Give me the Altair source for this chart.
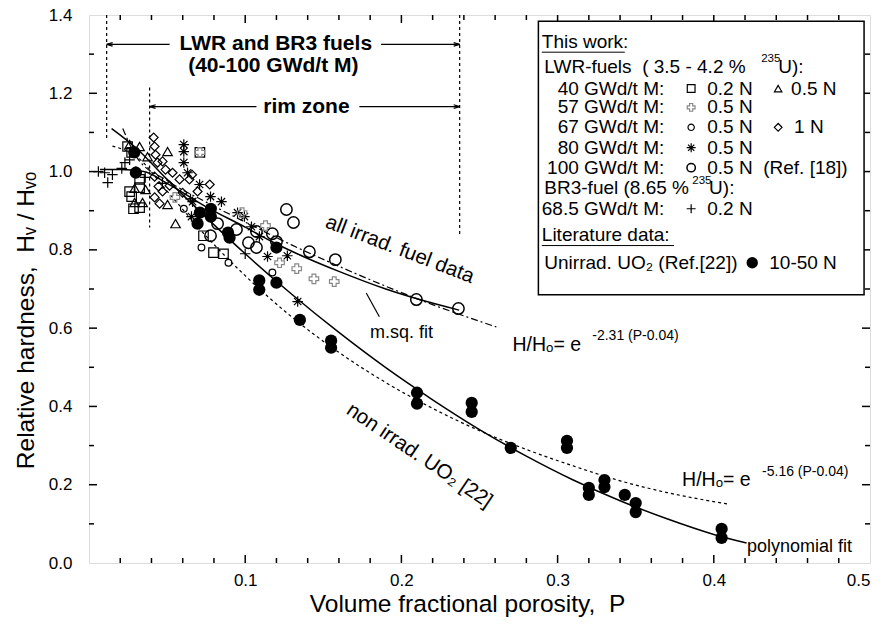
import altair as alt
import pandas as pd

# ---------------- data ----------------
# Unirradiated UO2, Ref.[22] (filled circles)
unirr_P = [0.029, 0.030, 0.0695, 0.071, 0.078, 0.078, 0.089, 0.090, 0.109, 0.109, 0.120, 0.120,
           0.135, 0.155, 0.155, 0.210, 0.210, 0.245, 0.245, 0.270, 0.306, 0.306, 0.320, 0.320,
           0.330, 0.330, 0.343, 0.350, 0.350, 0.405, 0.405]
unirr_H = [1.049, 0.997, 0.867, 0.895, 0.905, 0.885, 0.844, 0.831, 0.722, 0.698, 0.806, 0.716,
           0.621, 0.568, 0.550, 0.435, 0.407, 0.409, 0.386, 0.294, 0.312, 0.294, 0.192, 0.174,
           0.212, 0.194, 0.174, 0.153, 0.130, 0.087, 0.064]

# BR3 fuel 68.5 GWd/t M, 0.2 N (+)
br3_P = [0.006, 0.010, 0.012, 0.015, 0.021, 0.023, 0.026, 0.030, 0.036, 0.047, 0.065, 0.100]
br3_H = [1.000, 0.997, 0.972, 0.992, 1.008, 1.023, 1.030, 1.000, 0.985, 0.970, 0.930, 0.790]

# LWR 57 GWd/t M, 0.5 N (grey outlined cross)
g57_P = [0.055, 0.071, 0.098, 0.113, 0.122, 0.133, 0.144, 0.157]
g57_H = [0.934, 1.049, 0.895, 0.862, 0.767, 0.752, 0.726, 0.719]

# LWR 40 GWd/t M, 0.2 N (squares)
sq40_P = [0.0247, 0.0273, 0.026, 0.0273, 0.0324, 0.0285, 0.0324, 0.0324, 0.071, 0.0733, 0.0797, 0.0861]
sq40_H = [1.064, 1.049, 0.949, 0.936, 0.959, 0.905, 0.908, 0.980, 1.049, 0.836, 0.793, 0.790]

# LWR 40 GWd/t M, 0.5 N (triangles)
tr40_P = [0.026, 0.0324, 0.0503, 0.0375, 0.0343, 0.0292, 0.0554, 0.0503, 0.0362, 0.0292]
tr40_H = [1.069, 1.064, 1.051, 1.038, 0.921, 0.957, 0.867, 0.916, 0.954, 0.921]

# LWR 67 GWd/t M, 1 N (diamonds)
dm67_P = [0.0414, 0.042, 0.0426, 0.0439, 0.0471, 0.049, 0.0535, 0.058, 0.042, 0.0445, 0.0471,
          0.042, 0.0452, 0.0516, 0.0599, 0.0695, 0.0643, 0.0773, 0.066]
dm67_H = [1.087, 1.064, 1.043, 1.023, 1.026, 1.005, 0.997, 0.980, 0.987, 0.962, 0.949,
          0.934, 0.918, 0.964, 0.946, 0.949, 0.980, 0.967, 0.992]

# LWR 67 GWd/t M, 0.5 N (small circles)
sc67_P = [0.0607, 0.072, 0.0893, 0.1174]
sc67_H = [0.905, 0.806, 0.767, 0.742]

# LWR 80 GWd/t M, 0.5 N (asterisks)
st80_P = [0.0607, 0.0607, 0.0607, 0.0631, 0.0708, 0.0778, 0.0848, 0.0951, 0.0995, 0.104,
          0.1091, 0.1143, 0.127, 0.0663, 0.0656, 0.1336]
st80_H = [1.069, 1.051, 1.023, 0.997, 0.967, 0.936, 0.923, 0.895, 0.885, 0.859,
          0.834, 0.783, 0.785, 0.923, 0.885, 0.668]

# LWR 100 GWd/t M, 0.5 N, Ref.[18] (large open circles)
lc100_P = [0.0778, 0.0823, 0.0944, 0.1021, 0.1072, 0.1072, 0.1174, 0.120, 0.1264, 0.1309,
           0.1411, 0.1577, 0.2096, 0.2365]
lc100_H = [0.836, 0.867, 0.852, 0.818, 0.806, 0.847, 0.841, 0.821, 0.903, 0.870,
           0.795, 0.775, 0.673, 0.650]

# fitted curves
poly_P = [0.0145, 0.03, 0.05, 0.075, 0.10, 0.13, 0.16, 0.19, 0.22, 0.25, 0.28, 0.31, 0.34, 0.37, 0.40, 0.421]
poly_H = [1.110, 1.061, 0.980, 0.883, 0.790, 0.686, 0.589, 0.499, 0.417, 0.341, 0.273, 0.212, 0.159, 0.113, 0.073, 0.051]

e516_P = [0.015, 0.03, 0.05, 0.075, 0.10, 0.13, 0.16, 0.19, 0.22, 0.25, 0.28, 0.31, 0.34, 0.37, 0.4085]
e516_H = [1.065, 1.040, 0.950, 0.835, 0.734, 0.628, 0.538, 0.461, 0.395, 0.338, 0.290, 0.248, 0.210, 0.180, 0.151]

e231_P = [0.0216, 0.03, 0.05, 0.075, 0.10, 0.13, 0.16, 0.19, 0.22, 0.2608]
e231_H = [1.110, 1.040, 0.977, 0.922, 0.871, 0.812, 0.758, 0.707, 0.660, 0.603]

msq_P = [0.007, 0.020, 0.035, 0.050, 0.075, 0.100, 0.1175, 0.135, 0.160, 0.190, 0.210, 0.237]
msq_H = [1.005, 1.005, 1.000, 0.970, 0.910, 0.858, 0.820, 0.787, 0.745, 0.700, 0.675, 0.646]

# ---------------- layout helpers ----------------
W, H = 781, 548
FONT = "Liberation Sans"
NB = "\u00a0"
LEG_FS = 19

xs = alt.Scale(domain=[0, 0.5], nice=False, zero=False)
ys = alt.Scale(domain=[0, 1.4], nice=False, zero=False)

XAX = alt.Axis(values=[0.1, 0.2, 0.3, 0.4, 0.5], format=".1f", ticks=False, domain=False,
               grid=False, labelFontSize=17, labelFont=FONT, labelColor="black",
               labelPadding=9, title=f"Volume fractional porosity,{NB}{NB}P", titleFont=FONT,
               titleFontSize=24.5, titleFontWeight="normal", titleColor="black",
               titleX=378, titleY=41, titleBaseline="middle", titleAlign="center")
YAX = alt.Axis(values=[0, 0.2, 0.4, 0.6, 0.8, 1.0, 1.2, 1.4], format=".1f", ticks=False,
               domain=False, grid=False, labelFontSize=17, labelFont=FONT,
               labelColor="black", labelPadding=17,
               title=f"Relative hardness,{NB}{NB}Hᵥ / Hᵥₒ", titleFont=FONT, titleFontSize=24.5,
               titleFontWeight="normal", titleColor="black", titleX=-63, titleY=305,
               titleBaseline="middle", titleAlign="center")


def X(f="P"):
    return alt.X(f, type="quantitative", scale=xs, axis=XAX)


def Y(f="H"):
    return alt.Y(f, type="quantitative", scale=ys, axis=YAX)


def pts(P, Hv, **kw):
    df = pd.DataFrame({"P": P, "H": Hv})
    base = dict(opacity=1, strokeWidth=1.2, color="black")
    base.update(kw)
    return alt.Chart(df).mark_point(**base).encode(x=X(), y=Y())


def curve(P, Hv, dash=None, width=1.5):
    df = pd.DataFrame({"P": P, "H": Hv})
    kw = dict(color="black", strokeWidth=width, interpolate="monotone")
    if dash:
        kw["strokeDash"] = dash
    return alt.Chart(df).mark_line(**kw).encode(x=X(), y=Y())


ASTER = "M-1,0L1,0M0,-1L0,1M-0.7,-0.7L0.7,0.7M-0.7,0.7L0.7,-0.7"
PLUS = "M-1,0L1,0M0,-1L0,1"
ARROW_L = "M0,0L2,-0.6M0,0L2,0.6"
ARROW_R = "M0,0L-2,-0.6M0,0L-2,0.6"

layers = []

# inward ticks on all four sides
xt_major = [0.1, 0.2, 0.3, 0.4]
xt_minor = [round(0.02 * i, 2) for i in range(1, 25) if i % 5 != 0]
yt_major = [0.2, 0.4, 0.6, 0.8, 1.0, 1.2]
yt_minor = [0.1, 0.3, 0.5, 0.7, 0.9, 1.1, 1.3]
for vals, ln in ((xt_major, 8), (xt_minor, 5)):
    d = pd.DataFrame({"P": vals})
    layers.append(alt.Chart(d).mark_rule(color="black", strokeWidth=1.5).encode(
        x=X(), y=alt.value(H), y2=alt.value(H - ln)))
    layers.append(alt.Chart(d).mark_rule(color="black", strokeWidth=1.5).encode(
        x=X(), y=alt.value(0), y2=alt.value(ln)))
for vals, ln in ((yt_major, 8), (yt_minor, 5)):
    d = pd.DataFrame({"H": vals})
    layers.append(alt.Chart(d).mark_rule(color="black", strokeWidth=1.5).encode(
        y=Y(), x=alt.value(0), x2=alt.value(ln)))
    layers.append(alt.Chart(d).mark_rule(color="black", strokeWidth=1.5).encode(
        y=Y(), x=alt.value(W), x2=alt.value(W - ln)))

# vertical dotted marker lines
vl = pd.DataFrame({"P": [0.0113, 0.0388, 0.2373], "H": [1.4, 1.215, 1.4], "H2": [1.082, 0.857, 0.839]})
layers.append(alt.Chart(vl).mark_rule(color="black", strokeWidth=1.2, strokeDash=[3, 3]).encode(
    x=X(), y=Y(), y2="H2:Q"))

# arrows
arr = pd.DataFrame({"P": [0.0113, 0.187, 0.0388, 0.1731], "P2": [0.0516, 0.2373, 0.1072, 0.2373],
                    "H": [1.325, 1.325, 1.166, 1.166]})
layers.append(alt.Chart(arr).mark_rule(color="black", strokeWidth=1.2).encode(x=X(), x2="P2:Q", y=Y()))
layers.append(pts([0.0113, 0.0388], [1.325, 1.166], shape=ARROW_L, size=36, filled=False, strokeWidth=1.2))
layers.append(pts([0.2373, 0.2373], [1.325, 1.166], shape=ARROW_R, size=36, filled=False, strokeWidth=1.2))

# curves
layers.append(curve(poly_P, poly_H))
layers.append(curve(e516_P, e516_H, dash=[3, 3], width=1.2))
layers.append(curve(e231_P, e231_H, dash=[7, 3, 2, 3], width=1.2))
layers.append(curve(msq_P, msq_H))

# data points
layers.append(pts(sq40_P, sq40_H, shape="square", size=90, filled=False))
layers.append(pts(tr40_P, tr40_H, shape="triangle-up", size=90, filled=False))
layers.append(pts(dm67_P, dm67_H, shape="diamond", size=80, filled=False))
layers.append(pts(sc67_P, sc67_H, shape="circle", size=45, filled=False))
layers.append(pts(st80_P, st80_H, shape=ASTER, size=110, filled=False))
layers.append(pts(lc100_P, lc100_H, shape="circle", size=130, filled=False, strokeWidth=1.5))
layers.append(pts(g57_P, g57_H, shape="cross", size=90, filled=False, color="#888888"))
layers.append(pts(br3_P, br3_H, shape=PLUS, size=110, filled=False))
layers.append(pts(unirr_P, unirr_H, shape="circle", size=150, filled=True))

# legend box
box = pd.DataFrame({"P": [0.2877], "P2": [0.4962], "H": [1.384], "H2": [0.685]})
layers.append(alt.Chart(box).mark_rect(fill="white", stroke="black", strokeWidth=1.5).encode(
    x=X(), x2="P2:Q", y=Y(), y2="H2:Q"))

# legend symbols
layers.append(pts([0.3855], [1.212], shape="square", size=60, filled=False))
layers.append(pts([0.4412], [1.212], shape="triangle-up", size=55, filled=False))
layers.append(pts([0.3855], [1.164], shape="cross", size=60, filled=False, color="#888888"))
layers.append(pts([0.3855], [1.113], shape="circle", size=40, filled=False))
layers.append(pts([0.4412], [1.113], shape="diamond", size=60, filled=False))
layers.append(pts([0.3855], [1.061], shape=ASTER, size=80, filled=False))
layers.append(pts([0.3855], [1.010], shape="circle", size=70, filled=False, strokeWidth=1.5))
layers.append(pts([0.3855], [0.905], shape=PLUS, size=80, filled=False))
layers.append(pts([0.4246], [0.767], shape="circle", size=130, filled=True))

# legend underlines
ul = pd.DataFrame({"P": [0.2899, 0.2899], "P2": [0.3430, 0.3745], "H": [1.305, 0.811]})
layers.append(alt.Chart(ul).mark_rule(color="black", strokeWidth=1).encode(x=X(), x2="P2:Q", y=Y()))


def texts(df, **kw):
    base = dict(font=FONT, fontSize=LEG_FS, color="black", baseline="middle")
    base.update(kw)
    return alt.Chart(df).mark_text(**base).encode(x=X(), y=Y(), text="t:N")


leg_left = pd.DataFrame({
    "t": ["This work:", f"LWR-fuels{NB}{NB}({NB}3.5 - 4.2 %", "U):", "0.2 N", "0.5 N", "0.5 N", "0.5 N", "1 N",
          "0.5 N", f"0.5 N{NB}{NB}(Ref. [18])", "BR3-fuel (8.65 %", "U):", "0.2 N", "Literature data:",
          "Unirrad. UO₂ (Ref.[22])", "10-50 N"],
    "P": [0.2899, 0.2915, 0.4412, 0.3958, 0.4495, 0.3958, 0.3958, 0.4514,
          0.3958, 0.3958, 0.2915, 0.3970, 0.3958, 0.2899, 0.2915, 0.4355],
    "H": [1.330, 1.266, 1.266, 1.212, 1.212, 1.164, 1.113, 1.113,
          1.061, 1.010, 0.957, 0.957, 0.905, 0.839, 0.767, 0.767],
})
layers.append(texts(leg_left, align="left"))
leg_right = pd.DataFrame({
    "t": ["40 GWd/t M:", "57 GWd/t M:", "67 GWd/t M:", "80 GWd/t M:", "100 GWd/t M:", "68.5 GWd/t M:"],
    "P": [0.3683, 0.3683, 0.3683, 0.3683, 0.3683, 0.3683],
    "H": [1.212, 1.164, 1.113, 1.061, 1.010, 0.905],
})
layers.append(texts(leg_right, align="right"))
sup = pd.DataFrame({"t": ["235", "235"], "P": [0.4303, 0.3862], "H": [1.287, 0.975]})
layers.append(texts(sup, align="left", fontSize=11.5))

# plot annotations
bold = pd.DataFrame({"t": ["LWR and BR3 fuels", "(40-100 GWd/t M)", "rim zone"],
                     "P": [0.1196, 0.1180, 0.1392], "H": [1.325, 1.269, 1.166]})
layers.append(texts(bold, align="center", fontSize=21, fontWeight="bold"))

layers.append(texts(pd.DataFrame({"t": ["all irrad. fuel data"], "P": [0.199], "H": [0.801]}),
                    align="center", fontSize=20.5, angle=21))
layers.append(texts(pd.DataFrame({"t": ["non irrad. UO₂ [22]"], "P": [0.2115], "H": [0.274]}),
                    align="center", fontSize=20.5, angle=34))
layers.append(texts(pd.DataFrame({"t": ["m.sq. fit"], "P": [0.200], "H": [0.588]}),
                    align="center", fontSize=18))
ptr = pd.DataFrame({"P": [0.1775], "P2": [0.1859], "H": [0.690], "H2": [0.629]})
layers.append(alt.Chart(ptr).mark_rule(color="black", strokeWidth=1.2).encode(
    x=X(), x2="P2:Q", y=Y(), y2="H2:Q"))

eq = pd.DataFrame({"t": ["H/Hₒ= e", "H/Hₒ= e"], "P": [0.2711, 0.3797], "H": [0.558, 0.212]})
layers.append(texts(eq, align="left", fontSize=19.5))
eqs = pd.DataFrame({"t": ["-2.31 (P-0.04)", "-5.16 (P-0.04)"], "P": [0.3222, 0.4309], "H": [0.581, 0.233]})
layers.append(texts(eqs, align="left", fontSize=14))
layers.append(texts(pd.DataFrame({"t": ["polynomial fit"], "P": [0.4213], "H": [0.041]}),
                    align="left", fontSize=18))

chart = alt.layer(*layers).properties(
    width=W, height=H,
    autosize=alt.AutoSizeParams(type="none"),
    padding={"left": 89, "top": 15, "right": 12, "bottom": 69},
).configure_view(stroke="black", strokeWidth=2).configure(background="white")

chart.save("out.html", embed_options={"renderer": "svg", "actions": False})
